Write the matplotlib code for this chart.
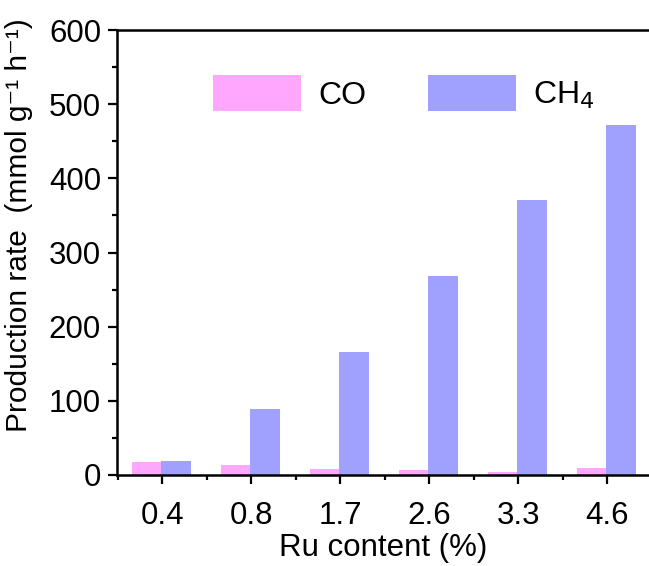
import numpy as np
import matplotlib.pyplot as plt
from matplotlib.ticker import MultipleLocator

plt.rcParams['font.family'] = ['Liberation Sans', 'DejaVu Sans']

# Datos
ru_content = ['0.4', '0.8', '1.7', '2.6', '3.3', '4.6']
co_rate = [18, 13, 8, 7, 4.5, 9]
ch4_rate = [19, 89, 166, 268, 371, 472]

x = np.arange(len(ru_content))
w = 0.33

fig = plt.figure(figsize=(6.49, 5.66), dpi=100)
ax = fig.add_axes([117/649, 91/566, 1 - 117/649, 445/566])

ax.bar(x - w/2 - 0.01, co_rate, width=w, color='#FFA6FF', label='CO')
ax.bar(x + w/2 - 0.01, ch4_rate, width=w, color='#A0A0FF', label='CH$_4$')

ax.set_xlim(-0.506, 5.47)
ax.set_ylim(0, 600)
ax.set_xticks(x)
ax.set_xticklabels(ru_content)
ax.xaxis.set_minor_locator(MultipleLocator(0.5))
ax.yaxis.set_major_locator(MultipleLocator(100))
ax.yaxis.set_minor_locator(MultipleLocator(50))

for s in ['left', 'bottom', 'top']:
    ax.spines[s].set_linewidth(1.8)
ax.spines['right'].set_visible(False)
ax.tick_params(which='major', direction='out', length=6.5, width=1.6, labelsize=22.5)
ax.tick_params(which='minor', direction='out', length=3.6, width=1.6)
ax.tick_params(axis='y', which='major', pad=5)
ax.tick_params(axis='x', which='major', pad=12)
ax.tick_params(axis='x', which='minor', bottom=True)

ax.set_xlabel('Ru content (%)', fontsize=22.5, labelpad=2)
ax.set_ylabel('Production rate  (mmol g\u207b\u00b9 h\u207b\u00b9)', fontsize=21.5)
ax.yaxis.set_label_coords(-0.158, 0.562)

ax.legend(loc='upper left', bbox_to_anchor=(213/649, (566-75)/566),
          bbox_transform=fig.transFigure, ncol=2, frameon=False,
          fontsize=23, handlelength=2.76, handleheight=1.38,
          handletextpad=0.53, columnspacing=1.94, borderpad=0, borderaxespad=0)

fig.savefig('out.png', dpi=100)
